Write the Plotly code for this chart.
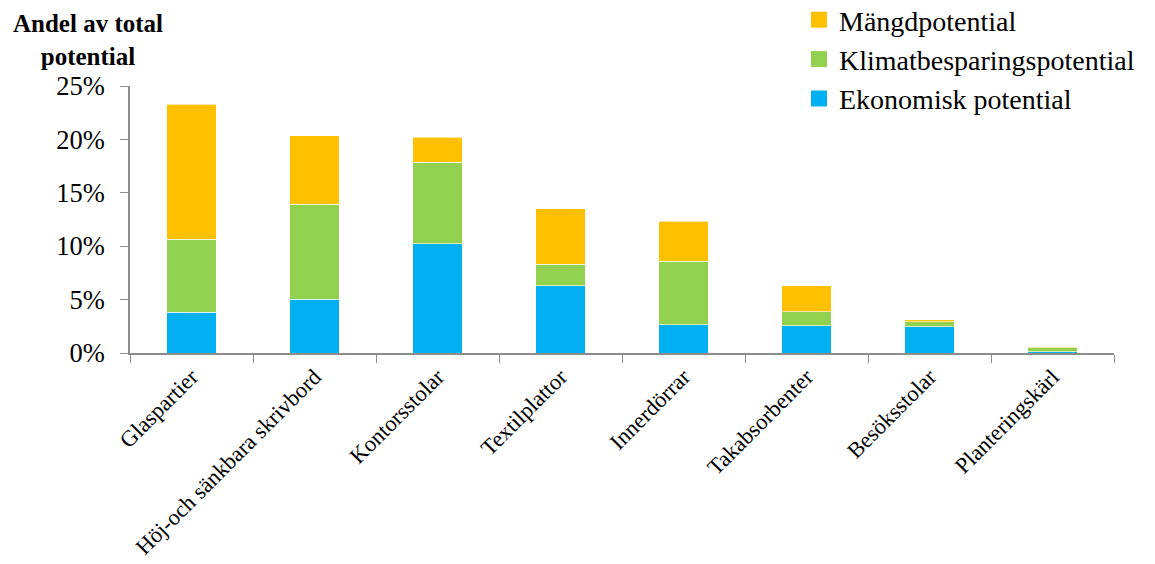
import plotly.graph_objects as go

categories = ["Glaspartier", "Höj-och sänkbara skrivbord", "Kontorsstolar", "Textilplattor",
              "Innerdörrar", "Takabsorbenter", "Besöksstolar", "Planteringskärl"]
ekonomisk = [3.81, 5.03, 10.22, 6.28, 2.66, 2.53, 2.44, 0.10]
klimat = [6.82, 8.88, 7.62, 2.03, 5.91, 1.31, 0.47, 0.40]
mangd = [12.68, 6.43, 2.38, 5.19, 3.77, 2.48, 0.22, 0.10]
y_ticks = [0, 5, 10, 15, 20, 25]
y_tick_labels = ["0%", "5%", "10%", "15%", "20%", "25%"]

FONT = "Liberation Serif"
fig = go.Figure()
series = [("Ekonomisk potential", ekonomisk, "#00B0F0"),
          ("Klimatbesparingspotential", klimat, "#92D050"),
          ("Mängdpotential", mangd, "#FFC000")]
for name, vals, col in series:
    fig.add_trace(go.Bar(x=categories, y=vals, name=name, width=0.4, showlegend=False,
                         marker=dict(color=col, line=dict(color="rgba(255,255,255,0.6)", width=1))))
for name, vals, col in series:
    fig.add_trace(go.Scatter(x=[None], y=[None], mode="markers", name=name,
                             marker=dict(symbol="square", size=16, color=col)))

fig.update_layout(
    barmode="stack",
    width=1155, height=564,
    margin=dict(l=130, r=41, t=86, b=211, autoexpand=False),
    plot_bgcolor="white", paper_bgcolor="white",
    font=dict(family=FONT, color="black", size=22),
    legend=dict(traceorder="reversed", xref="paper", yref="paper",
                x=(799 - 130) / 984, xanchor="left", y=1 + (86 + 5) / 267, yanchor="top",
                itemsizing="trace", itemwidth=30,
                font=dict(size=28, family=FONT), bgcolor="rgba(0,0,0,0)"),
    showlegend=True,
)
fig.update_xaxes(showline=True, linecolor="#8c8c8c", linewidth=1.5, ticks="outside",
                 tickson="boundaries", ticklen=8, tickcolor="#8c8c8c", tickangle=-45,
                 tickfont=dict(size=22.5, family=FONT), showgrid=False)
fig.update_yaxes(range=[0, 25], tickvals=y_ticks, ticktext=y_tick_labels, showline=True,
                 linecolor="#8c8c8c", linewidth=1.5, ticks="outside", ticklen=8,
                 tickcolor="#8c8c8c", showgrid=False, zeroline=False,
                 ticklabelstandoff=10,
                 tickfont=dict(size=26.5, family=FONT))
fig.add_annotation(text="<b>Andel av total<br>potential</b>", xref="paper", yref="paper",
                   x=-42/984, y=1 + 78/267, xanchor="center", yanchor="top", showarrow=False,
                   font=dict(size=25, family=FONT), align="center")
fig.write_html("out.html")
